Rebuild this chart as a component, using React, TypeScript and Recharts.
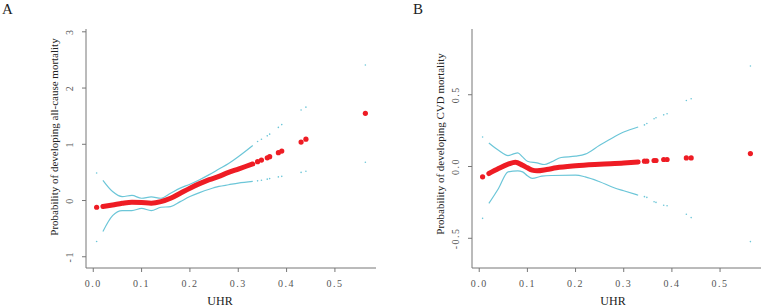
import React from 'react';
import { ComposedChart, Line, Scatter, XAxis, YAxis } from 'recharts';

// Panel A: all-cause mortality
const fitXA = [0.02, 0.04, 0.06, 0.08, 0.1, 0.12, 0.14, 0.16, 0.18, 0.2, 0.22, 0.24, 0.26, 0.28, 0.3, 0.33];
const fitYA = [-0.107, -0.08, -0.05, -0.03, -0.035, -0.047, -0.02, 0.04, 0.13, 0.22, 0.3, 0.37, 0.43, 0.5, 0.56, 0.65];
const upperA = [0.36, 0.16, 0.07, 0.09, 0.04, 0.065, 0.04, 0.13, 0.22, 0.29, 0.37, 0.46, 0.56, 0.66, 0.78, 0.98];
const lowerA = [-0.55, -0.27, -0.18, -0.18, -0.14, -0.18, -0.12, -0.11, -0.02, 0.07, 0.14, 0.2, 0.25, 0.28, 0.31, 0.34];
const isoXA = [0.007, 0.34, 0.348, 0.36, 0.365, 0.383, 0.39, 0.43, 0.44, 0.563];
const isoFitA = [-0.12, 0.69, 0.72, 0.76, 0.78, 0.85, 0.88, 1.04, 1.09, 1.55];
const isoUpperA = [0.49, 1.05, 1.09, 1.15, 1.18, 1.3, 1.35, 1.61, 1.66, 2.41];
const isoLowerA = [-0.73, 0.35, 0.36, 0.38, 0.39, 0.42, 0.43, 0.5, 0.52, 0.68];

// Panel B: CVD mortality
const fitXB = [0.02, 0.04, 0.06, 0.075, 0.09, 0.1, 0.11, 0.12, 0.14, 0.16, 0.2, 0.25, 0.3, 0.33];
const fitYB = [-0.049, -0.014, 0.016, 0.03, 0.009, -0.009, -0.025, -0.03, -0.021, -0.009, 0.005, 0.016, 0.025, 0.032];
const upperXB = [0.02, 0.04, 0.06, 0.07, 0.08, 0.09, 0.1, 0.12, 0.135, 0.15, 0.17, 0.2, 0.22, 0.25, 0.28, 0.3, 0.33];
const upperB = [0.164, 0.113, 0.076, 0.086, 0.095, 0.067, 0.037, 0.025, 0.014, 0.032, 0.063, 0.072, 0.086, 0.148, 0.206, 0.24, 0.275];
const lowerXB = [0.02, 0.04, 0.06, 0.08, 0.09, 0.1, 0.11, 0.13, 0.15, 0.2, 0.22, 0.25, 0.28, 0.3, 0.33];
const lowerB = [-0.257, -0.153, -0.037, -0.03, -0.037, -0.065, -0.083, -0.067, -0.0625, -0.06, -0.072, -0.106, -0.148, -0.169, -0.2];
const isoXB = [0.007, 0.343, 0.348, 0.363, 0.367, 0.383, 0.39, 0.43, 0.44, 0.563];
const isoFitB = [-0.072, 0.037, 0.037, 0.042, 0.042, 0.049, 0.049, 0.06, 0.06, 0.09];
const isoUpperB = [0.206, 0.29, 0.3, 0.333, 0.34, 0.36, 0.368, 0.46, 0.472, 0.7];
const isoLowerB = [-0.361, -0.21, -0.215, -0.245, -0.25, -0.27, -0.273, -0.333, -0.356, -0.523];

const xTicks = [0, 0.1, 0.2, 0.3, 0.4, 0.5];
const yTicksA = [-1, 0, 1, 2, 3];
const yTicksB = [-0.5, 0, 0.5];

const RED = '#ee1c24';
const CYAN = '#6cc6d8';
const FRAME = '#777';
const FONT = "'Liberation Serif', 'DejaVu Serif', serif";
const serif = { fontFamily: FONT };

const pts = (xs: number[], ys: number[]) => xs.map((x, i) => ({ x, y: ys[i] }));

const XTick = ({ x, y, payload }: any) => (
  <text x={x} y={y} dy="0.71em" textAnchor="middle" fontSize={10} fill="#555" style={{ ...serif, letterSpacing: 1.5 }}>
    {payload.value.toFixed(1)}
  </text>
);

const YTick = (digits: number) => ({ x, y, payload }: any) => (
  <text transform={`translate(${x},${y}) rotate(-90)`} dy="0.35em" textAnchor="middle" fontSize={10} fill="#555" style={{ ...serif, letterSpacing: 1.5 }}>
    {digits ? payload.value.toFixed(digits) : payload.value}
  </text>
);

const dot = (r: number, color: string) => (props: any) => <circle cx={props.cx} cy={props.cy} r={r} fill={color} />;

interface PanelProps {
  left: number;
  yWidth: number;
  rightMargin: number;
  letter: string;
  letterX: number;
  title: string;
  titleX: number;
  titleY: number;
  uhrX: number;
  yDomain: [number, number];
  yTicks: number[];
  digits: number;
  fit: { x: number; y: number }[];
  upper: { x: number; y: number }[];
  lower: { x: number; y: number }[];
  isoFit: { x: number; y: number }[];
  isoCi: { x: number; y: number }[];
}

const Panel = (p: PanelProps) => (
  <div style={{ position: 'absolute', left: p.left, top: 0, width: 380, height: 308 }}>
    <ComposedChart width={380} height={308} margin={{ top: 29, right: p.rightMargin, bottom: 0, left: 0 }} style={serif}>
      <XAxis
        xAxisId="b"
        type="number"
        dataKey="x"
        domain={[-0.015, 0.585]}
        ticks={xTicks}
        allowDataOverflow
        height={40}
        stroke={FRAME}
        tickSize={4}
        tickMargin={8}
        tick={<XTick />}
      />
      <XAxis xAxisId="t" orientation="top" type="number" domain={[-0.015, 0.585]} height={0} tick={false} tickLine={false} stroke={FRAME} />
      <YAxis
        yAxisId="l"
        type="number"
        domain={p.yDomain}
        ticks={p.yTicks}
        allowDataOverflow
        width={p.yWidth}
        stroke={FRAME}
        tickSize={4}
        tickMargin={13}
        tick={YTick(p.digits)}
      />
      <YAxis yAxisId="r" orientation="right" type="number" domain={p.yDomain} width={0} tick={false} tickLine={false} stroke={FRAME} />
      <Line xAxisId="b" yAxisId="l" data={p.upper} dataKey="y" type="monotone" stroke={CYAN} strokeWidth={1.2} dot={false} isAnimationActive={false} />
      <Line xAxisId="b" yAxisId="l" data={p.lower} dataKey="y" type="monotone" stroke={CYAN} strokeWidth={1.2} dot={false} isAnimationActive={false} />
      <Scatter xAxisId="b" yAxisId="l" data={p.isoCi} dataKey="y" shape={dot(0.8, CYAN)} isAnimationActive={false} />
      <Line xAxisId="b" yAxisId="l" data={p.fit} dataKey="y" type="monotone" stroke={RED} strokeWidth={5} strokeLinecap="round" dot={false} isAnimationActive={false} />
      <Scatter xAxisId="b" yAxisId="l" data={p.isoFit} dataKey="y" shape={dot(2.6, RED)} isAnimationActive={false} />
      <text x={p.letterX} y={14} fontSize={15} fill="#222" style={serif}>{p.letter}</text>
      <text transform={`translate(${p.titleX},${p.titleY}) rotate(-90)`} textAnchor="middle" fontSize={11} fill="#222" style={serif}>
        {p.title}
      </text>
      <text x={p.uhrX} y={305} textAnchor="middle" fontSize={12} fill="#222" style={serif}>UHR</text>
    </ComposedChart>
  </div>
);

export default function App() {
  return (
    <div style={{ position: 'absolute', left: 0, top: 0, width: 763, height: 308, background: '#fff', ...serif }}>
      <Panel
        left={0}
        yWidth={86}
        rightMargin={4}
        letter="A"
        letterX={2}
        title="Probability of developing all-cause mortality"
        titleX={58}
        titleY={137}
        uhrX={220}
        yDomain={[-1.2, 3.05]}
        yTicks={yTicksA}
        digits={0}
        fit={pts(fitXA, fitYA)}
        upper={pts(fitXA, upperA)}
        lower={pts(fitXA, lowerA)}
        isoFit={pts(isoXA, isoFitA)}
        isoCi={[...pts(isoXA, isoUpperA), ...pts(isoXA, isoLowerA)]}
      />
      <Panel
        left={383}
        yWidth={89}
        rightMargin={2}
        letter="B"
        letterX={30}
        title="Probability of developing CVD mortality"
        titleX={61}
        titleY={144}
        uhrX={230}
        yDomain={[-0.707, 0.958]}
        yTicks={yTicksB}
        digits={1}
        fit={pts(fitXB, fitYB)}
        upper={pts(upperXB, upperB)}
        lower={pts(lowerXB, lowerB)}
        isoFit={pts(isoXB, isoFitB)}
        isoCi={[...pts(isoXB, isoUpperB), ...pts(isoXB, isoLowerB)]}
      />
    </div>
  );
}
